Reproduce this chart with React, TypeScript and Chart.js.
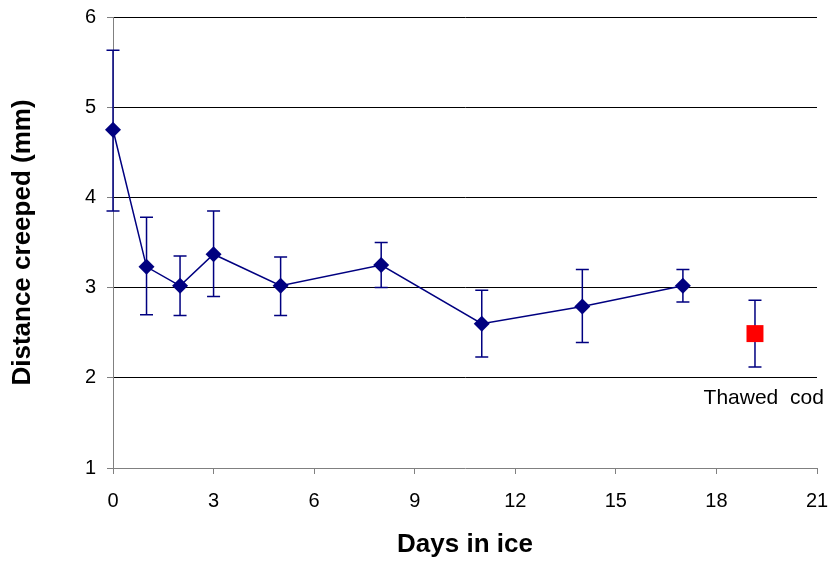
import React, { useEffect, useRef } from "react";
import { Chart, registerables } from "chart.js";

Chart.register(...registerables);

const days = [0, 1, 2, 3, 5, 8, 11, 14, 17];
const creep = [4.75, 3.23, 3.02, 3.37, 3.02, 3.25, 2.6, 2.79, 3.02];
const creepHigh = [5.63, 3.78, 3.35, 3.85, 3.34, 3.5, 2.97, 3.2, 3.2];
const creepLow = [3.85, 2.7, 2.69, 2.9, 2.69, 3.0, 2.23, 2.39, 2.84];

const thawedDay = [19.15];
const thawedCreep = [2.49];
const thawedHigh = [2.86];
const thawedLow = [2.12];

const thawedLabel = "Thawed  cod";
const thawedLabelAt = { x: 19.41, y: 1.77 };

const xTitle = "Days in ice";
const yTitle = "Distance creeped (mm)";

const NAVY = "#000080";
const FONT = "'Liberation Sans', Arial, sans-serif";

const errorBarPlugin = {
  id: "errorBars",
  beforeDatasetsDraw(chart: any) {
    const { ctx, scales } = chart;
    const xs = scales.x;
    const ys = scales.y;
    const draw = (xv: number[], hi: number[], lo: number[]) => {
      for (let i = 0; i < xv.length; i++) {
        const px = xs.getPixelForValue(xv[i]);
        const pyH = ys.getPixelForValue(hi[i]);
        const pyL = ys.getPixelForValue(lo[i]);
        ctx.beginPath();
        ctx.moveTo(px, pyH);
        ctx.lineTo(px, pyL);
        ctx.moveTo(px - 6.5, pyH);
        ctx.lineTo(px + 6.5, pyH);
        ctx.moveTo(px - 6.5, pyL);
        ctx.lineTo(px + 6.5, pyL);
        ctx.stroke();
      }
    };
    ctx.save();
    ctx.strokeStyle = NAVY;
    ctx.lineWidth = 1.5;
    draw(days, creepHigh, creepLow);
    draw(thawedDay, thawedHigh, thawedLow);
    ctx.restore();
  },
  afterDatasetsDraw(chart: any) {
    const { ctx, scales } = chart;
    ctx.save();
    ctx.fillStyle = "#000";
    ctx.font = `21px ${FONT}`;
    ctx.textAlign = "center";
    ctx.textBaseline = "middle";
    ctx.fillText(
      thawedLabel,
      scales.x.getPixelForValue(thawedLabelAt.x),
      scales.y.getPixelForValue(thawedLabelAt.y)
    );
    ctx.restore();
  },
};

const zeroPadding = (s: any) => {
  s.paddingLeft = 0;
  s.paddingRight = 0;
  s.paddingTop = 0;
  s.paddingBottom = 0;
};

export default function App() {
  const ref = useRef<HTMLCanvasElement | null>(null);

  useEffect(() => {
    if (!ref.current) return;
    const chart = new Chart(ref.current, {
      type: "scatter",
      data: {
        datasets: [
          {
            data: days.map((d, i) => ({ x: d, y: creep[i] })),
            showLine: true,
            borderColor: NAVY,
            borderWidth: 1.5,
            backgroundColor: NAVY,
            pointStyle: "rectRot",
            pointRadius: 8,
            pointBorderWidth: 0,
            pointBackgroundColor: NAVY,
            clip: false as any,
          },
          {
            data: thawedDay.map((d, i) => ({ x: d, y: thawedCreep[i] })),
            showLine: false,
            backgroundColor: "#FF0000",
            borderColor: "#FF0000",
            pointStyle: "rect",
            pointRadius: 12,
            pointBorderWidth: 0,
            clip: false as any,
          },
        ],
      },
      options: {
        responsive: false,
        animation: false,
        layout: { padding: { top: 17, right: 11, left: 0, bottom: 0 } },
        plugins: {
          legend: { display: false },
          tooltip: { enabled: false },
        },
        scales: {
          x: {
            type: "linear",
            min: 0,
            max: 21,
            afterFit: (s: any) => {
              s.height = 93;
              zeroPadding(s);
            },
            ticks: {
              stepSize: 3,
              color: "#000",
              padding: 15,
              maxRotation: 0,
              font: { family: FONT, size: 20 },
            },
            grid: {
              drawOnChartArea: false,
              drawTicks: true,
              tickLength: 6,
              color: "#808080",
            },
            border: { display: true, color: "#808080", width: 1 },
            title: {
              display: true,
              text: xTitle,
              color: "#000",
              font: { family: FONT, size: 26, weight: "bold" },
              padding: { top: 0, bottom: 1 },
            },
          },
          y: {
            type: "linear",
            min: 1,
            max: 6,
            afterFit: (s: any) => {
              s.width = 113;
              zeroPadding(s);
            },
            ticks: {
              stepSize: 1,
              color: "#000",
              padding: 11,
              font: { family: FONT, size: 20 },
            },
            grid: {
              drawTicks: true,
              tickLength: 6,
              color: (c: any) =>
                c.tick && c.tick.value === 1 ? "rgba(0,0,0,0)" : "#000",
              tickColor: "#808080",
              lineWidth: 1,
            },
            border: { display: true, color: "#808080", width: 1 },
            title: {
              display: true,
              text: yTitle,
              color: "#000",
              font: { family: FONT, size: 26, weight: "bold" },
              padding: { top: 7, bottom: 0 },
            },
          },
        },
      },
      plugins: [errorBarPlugin],
    } as any);
    return () => chart.destroy();
  }, []);

  return (
    <div
      style={{
        position: "absolute",
        left: 0,
        top: 0,
        width: 829,
        height: 561,
        background: "#fff",
      }}
    >
      <canvas ref={ref} width={829} height={561} />
    </div>
  );
}
